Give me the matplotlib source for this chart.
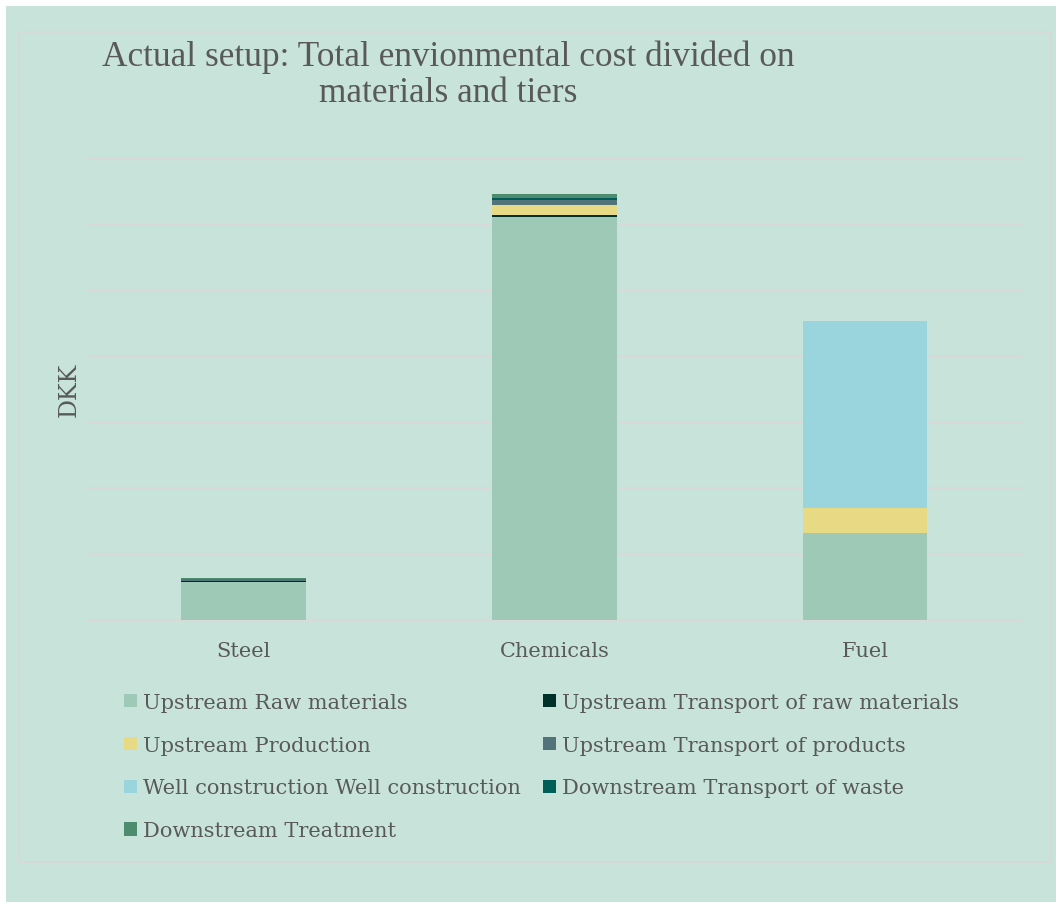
import matplotlib
matplotlib.use('Agg')
import matplotlib.pyplot as plt
from matplotlib.patches import Rectangle
import numpy as np

# cost per material, split by tier (DKK)
materials = ['Steel', 'Chemicals', 'Fuel']
tiers = ['Upstream Raw materials',
         'Upstream Transport of raw materials',
         'Upstream Production',
         'Upstream Transport of products',
         'Well construction Well construction',
         'Downstream Transport of waste',
         'Downstream Treatment']
raw_materials = [5800, 61250, 13130]
transport_raw = [150, 230, 0]
production = [0, 1570, 3900]
transport_products = [250, 700, 0]
well_construction = [0, 0, 28400]
transport_waste = [50, 350, 0]
treatment = [50, 650, 0]

series = [raw_materials, transport_raw, production, transport_products,
          well_construction, transport_waste, treatment]
colors = ['#9fc9b7', '#00302a', '#e8da84', '#52737a',
          '#9ad5dd', '#005e58', '#4e8c70']

bg = '#c7e3da'
txt = '#595959'
W, H = 1056, 903

fig = plt.figure(figsize=(W / 100, H / 100), dpi=100, facecolor='white')
fig.patches.append(Rectangle((6 / W, 0), 1 - 6 / W, 1 - 7 / H,
                             transform=fig.transFigure, facecolor=bg,
                             edgecolor='none', zorder=-2))
fig.patches.append(Rectangle((19 / W, 40 / H), 1032 / W, 830 / H,
                             transform=fig.transFigure, facecolor='none',
                             edgecolor='#d9d9d9', lw=1.2, zorder=-1))

ax = fig.add_axes([88 / W, 1 - 620.7 / H, 932.7 / W, 460.7 / H])
ax.set_facecolor('none')

x = np.arange(len(materials))
bottom = np.zeros(len(materials))
bars = []
for vals, c, name in zip(series, colors, tiers):
    b = ax.bar(x, vals, 0.4, bottom=bottom, color=c, label=name,
               linewidth=0, zorder=3)
    bars.append(b)
    bottom += np.array(vals)

ax.set_xlim(-0.5, 2.5)
ax.set_ylim(0, 70000)
ax.set_yticks(np.arange(0, 70001, 10000))
ax.yaxis.grid(True, color='#d9d9d9', lw=1.5, zorder=0)
for gl in ax.get_ygridlines():
    gl.set_clip_on(False)
ax.tick_params(axis='y', left=False, labelleft=False)
ax.tick_params(axis='x', bottom=False, pad=12, labelsize=15, labelcolor=txt)
ax.set_xticks(x)
ax.set_xticklabels(materials, family='DejaVu Serif')
for s in ax.spines.values():
    s.set_visible(False)
ax.set_ylabel('DKK', family='DejaVu Serif', fontsize=17, color=txt, labelpad=5)

fig.text(448 / W, 1 - 41 / H,
         'Actual setup: Total envionmental cost divided on\nmaterials and tiers',
         ha='center', va='top', multialignment='center',
         family='Liberation Serif', fontsize=25.4, color=txt, linespacing=1.12)

# legend: first column raw/production/well/treatment, second the transports
order = [0, 2, 4, 6, 1, 3, 5]
leg = fig.legend([bars[i] for i in order], [tiers[i] for i in order],
                 ncol=2, loc='upper left', bbox_to_anchor=(124 / W, 1 - 694 / H),
                 frameon=False, borderpad=0, borderaxespad=0,
                 handlelength=0.6, handleheight=0.6, handletextpad=0.3,
                 columnspacing=1.08, labelspacing=1.14,
                 prop={'family': 'DejaVu Serif', 'size': 15})
for t in leg.get_texts():
    t.set_color(txt)

fig.savefig('out.png', dpi=100, facecolor='white')
